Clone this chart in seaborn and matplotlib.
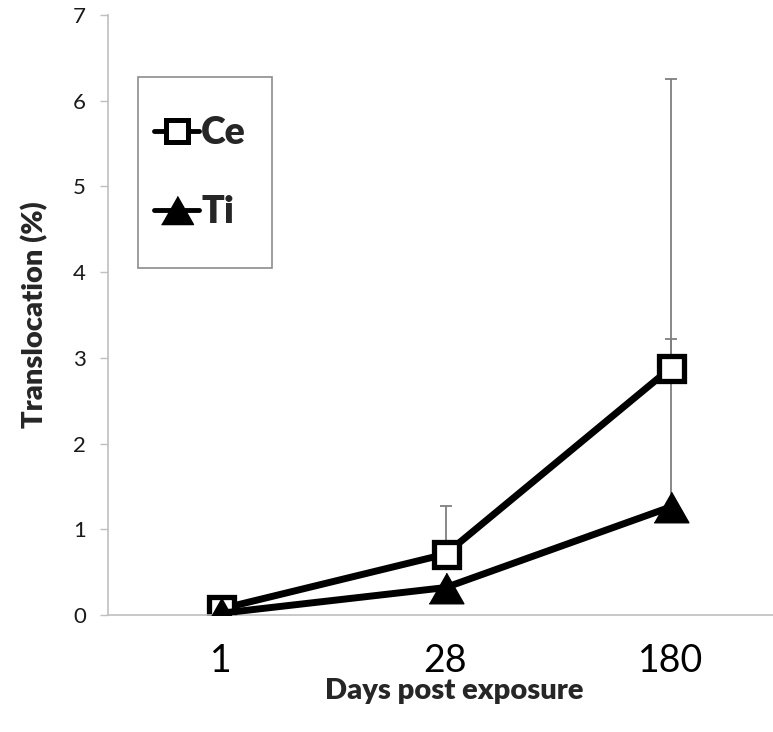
import matplotlib
matplotlib.use("Agg")
import matplotlib.pyplot as plt
from matplotlib.lines import Line2D
from matplotlib.patches import Rectangle
import seaborn as sns
import pandas as pd
import numpy as np

# ---- data ----
days = ["1", "28", "180"]
ce_values = [0.07, 0.71, 2.88]
ce_err_up = [0.0, 0.56, 3.37]
ti_values = [0.02, 0.32, 1.26]
ti_err_up = [0.0, 0.0, 1.96]
series_names = ["Ce", "Ti"]
y_ticks = [0, 1, 2, 3, 4, 5, 6, 7]

sns.set_theme(style="white")
plt.rcParams["font.family"] = ["Lato", "DejaVu Sans"]

fig = plt.figure(figsize=(7.73, 7.32), dpi=100)
ax = fig.add_axes([108 / 773, (732 - 615) / 732, (773 - 108) / 773, 600 / 732])

pos = np.arange(len(days))
df = pd.DataFrame({
    "pos": np.concatenate([pos, pos]),
    "value": ce_values + ti_values,
    "series": [series_names[0]] * 3 + [series_names[1]] * 3,
})

tri = [(-1, -0.88), (1, -0.88), (0, 0.88)]

# error bars (upward only), drawn behind
ax.errorbar(pos, ce_values, yerr=[np.zeros(3), ce_err_up], fmt="none",
            ecolor="#7f7f7f", elinewidth=1.3, capsize=4, capthick=1.3, zorder=1)
ax.errorbar(pos, ti_values, yerr=[np.zeros(3), ti_err_up], fmt="none",
            ecolor="#7f7f7f", elinewidth=1.3, capsize=4, capthick=1.3, zorder=1)

sns.lineplot(data=df[df.series == "Ce"], x="pos", y="value", ax=ax,
             color="black", linewidth=5, marker="s", markersize=18,
             markerfacecolor="white", markeredgecolor="black",
             markeredgewidth=3.8, zorder=2, legend=False)
sns.lineplot(data=df[df.series == "Ti"], x="pos", y="value", ax=ax,
             color="black", linewidth=5, marker=tri, markersize=25,
             markerfacecolor="black", markeredgecolor="black",
             markeredgewidth=1, zorder=3, legend=False)

ax.set_xlim(-0.5, 2.5 - 10 / 225)
ax.set_ylim(0, 7)
ax.set_yticks(y_ticks)
ax.set_yticklabels([str(t) for t in y_ticks], fontsize=16, color="#1a1a1a")
ax.set_xticks(pos)
ax.set_xticklabels(days, fontsize=27, color="black")
ax.set_xticks([0.5, 1.5], minor=True)
ax.tick_params(axis="x", which="major", length=0, pad=20)
ax.tick_params(axis="x", which="minor", length=8, width=1, color="#bfbfbf", direction="out")
ax.tick_params(axis="y", which="major", length=6, width=1, color="#bfbfbf",
               direction="out", pad=10, left=True)

for s in ["top", "right"]:
    ax.spines[s].set_visible(False)
for s in ["left", "bottom"]:
    ax.spines[s].set_color("#bfbfbf")
    ax.spines[s].set_linewidth(1.2)

ax.set_xlabel("Days post exposure", fontsize=21, fontweight="heavy", labelpad=4)
ax.xaxis.set_label_coords(0.52, -0.105)
ax.set_ylabel("Translocation (%)", fontsize=21, fontweight="heavy", labelpad=18)

# legend box
rect = Rectangle((30 / 665, 0.578), 134 / 665, 0.319, transform=ax.transAxes,
                 fill=False, edgecolor="#8c8c8c", linewidth=1.2, zorder=5)
ax.add_patch(rect)
handles = [
    Line2D([0], [0], color="black", linewidth=3.5, marker="s", markersize=16,
           markerfacecolor="white", markeredgecolor="black", markeredgewidth=3.6),
    Line2D([0], [0], color="black", linewidth=3.5, marker=tri, markersize=23,
           markerfacecolor="black", markeredgecolor="black"),
]
leg = ax.legend(handles, series_names, loc="center", frameon=False,
                bbox_to_anchor=(30 / 665 + 62 / 665, 0.578 + 0.16),
                bbox_transform=ax.transAxes,
                prop={"size": 27, "weight": "heavy"}, handlelength=1.2,
                handletextpad=0.05, labelspacing=1.2)

fig.savefig("out.png", dpi=100)
